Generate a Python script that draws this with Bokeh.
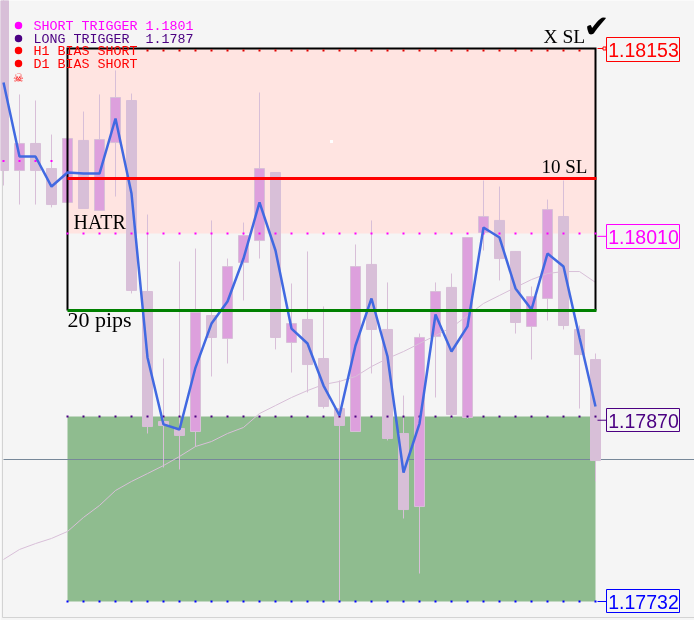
from bokeh.plotting import figure
from bokeh.embed import file_html
from bokeh.resources import INLINE
from bokeh.core.properties import value

# ---- candles (prices, one per bar)
opens = [1.181934,1.180601,1.180807,1.180616,1.180358,1.180830,1.180297,1.180814,1.181134,1.179680,
         1.178690,1.178637,1.178614,1.179497,1.179322,1.179901,1.180068,1.180586,1.179292,1.179467,
         1.179170,1.178789,1.178614,1.179886,1.179391,1.178599,1.178043,1.179337,1.179711,1.178721,
         1.180129,1.180221,1.179985,1.179414,1.179627,1.180251,1.179391,1.179162]
closes = [1.180601,1.180807,1.180601,1.180342,1.180845,1.180312,1.180837,1.181157,1.179688,1.178652,
          1.178660,1.178584,1.179520,1.179330,1.179870,1.180106,1.180616,1.179330,1.179436,1.179124,
          1.178805,1.178660,1.179870,1.179391,1.178561,1.178020,1.179330,1.179680,1.178744,1.180091,
          1.180251,1.179931,1.179444,1.179642,1.180304,1.179421,1.179200,1.178393]
highs = [1.181934,1.181180,1.181134,1.180875,1.180845,1.181050,1.181180,1.181363,1.181187,1.180266,
         1.179170,1.179908,1.180007,1.180221,1.179931,1.180205,1.181195,1.180586,1.179741,1.179985,
         1.179566,1.179003,1.180038,1.180221,1.179749,1.178888,1.179360,1.179749,1.179817,1.180091,
         1.180525,1.180479,1.179985,1.179718,1.180380,1.180525,1.179421,1.179208]
lows = [1.180487,1.180342,1.180342,1.180320,1.180358,1.180312,1.180297,1.180403,1.179665,1.178599,
        1.178340,1.178325,1.178500,1.179033,1.179132,1.179612,1.179931,1.179239,1.179063,1.178911,
        1.178789,1.177320,1.178614,1.179056,1.178546,1.177952,1.177533,1.178873,1.178713,1.178713,
        1.179992,1.179764,1.179360,1.179162,1.179459,1.179391,1.178789,1.178234]
# ---- blue fast average and thin slow average
fast_ma = [1.181271,1.180708,1.180708,1.180479,1.180586,1.180578,1.180578,1.180997,1.180426,1.179178,
           1.178668,1.178629,1.179101,1.179436,1.179604,1.179931,1.180358,1.179992,1.179398,1.179284,
           1.178964,1.178736,1.179269,1.179627,1.179185,1.178302,1.178675,1.179505,1.179223,1.179414,
           1.180167,1.180091,1.179703,1.179543,1.179969,1.179870,1.179330,1.178805]
slow_ma = [1.177640,1.177716,1.177761,1.177800,1.177853,1.177960,1.178051,1.178165,1.178234,1.178294,
           1.178355,1.178424,1.178500,1.178538,1.178599,1.178645,1.178751,1.178812,1.178873,1.178926,
           1.178972,1.178995,1.179033,1.179109,1.179170,1.179223,1.179284,1.179345,1.179406,1.179497,
           1.179589,1.179650,1.179711,1.179771,1.179817,1.179832,1.179832,1.179749]
# ---- price levels
level_top = 1.18153
level_short = 1.18010
level_long = 1.17870
level_bottom = 1.17732
pink_floor = 1.180122
green_ceiling = 1.178728
sl_10 = 1.180540
pips_20 = 1.179535
current_price = 1.178401
early_trigger = 1.180674
top_ticks = 1.181515
level_labels = ["1.18153", "1.18010", "1.17870", "1.17732"]
legend_lines = ["SHORT TRIGGER 1.1801", "LONG TRIGGER\u00a0\u00a01.1787", "H1 BIAS SHORT", "D1 BIAS SHORT"]

W, H = 694, 620
BAR_PX = 16.0
PRICE_PX = 7.613e-6
Y_AT_0 = 1.1818954


def bx(px):
    return (px - 3) / BAR_PX


def py(y):
    return Y_AT_0 - y * PRICE_PX


BG = "#f5f5f5"
THISTLE = "#d8bfd8"
PLUM = "#dda0dd"
FONT_SERIF = value("Liberation Serif")
FONT_MONO = value("Liberation Mono")
FONT_SANS = value("Liberation Sans")

p = figure(width=W, height=H, x_range=(bx(0), bx(W)), y_range=(py(H), py(0)),
           x_axis_location=None, y_axis_location=None, toolbar_location=None,
           output_backend="svg", min_border=0,
           background_fill_color=BG, border_fill_color=BG,
           styles={"position": "fixed", "left": "0px", "top": "0px"})
p.grid.visible = False
p.outline_line_color = None

first, last = 4, 37
# zones
p.quad(left=[first], right=[last], top=[level_top], bottom=[pink_floor], fill_color="#ffe4e1", line_color=None)
p.quad(left=[first], right=[last], top=[green_ceiling], bottom=[level_bottom], fill_color="#8fbc8f", line_color=None)
# window frame lines
p.segment(x0=[bx(2)], x1=[bx(2)], y0=[py(170)], y1=[py(617)], line_color="#d3d3d3", line_width=1)
p.segment(x0=[bx(2)], x1=[bx(W)], y0=[py(617)], y1=[py(617)], line_color="#d3d3d3", line_width=1)
# current price
p.segment(x0=[bx(3)], x1=[bx(W)], y0=[current_price], y1=[current_price], line_color="#778899", line_width=1)

xs = list(range(len(opens)))
tops = [max(a, b) for a, b in zip(opens, closes)]
bots = [min(a, b) for a, b in zip(opens, closes)]
fills = [PLUM if c > o else THISTLE for o, c in zip(opens, closes)]
p.segment(x0=xs, x1=xs, y0=lows, y1=highs, line_color=THISTLE, line_width=1)
p.vbar(x=xs, width=0.625, top=tops, bottom=bots, fill_color=fills, line_color=THISTLE, line_width=1)
p.line(xs, slow_ma, line_color=THISTLE, line_width=1)


def ticks(xvals, level, color):
    p.scatter(xvals, [level] * len(xvals), marker="square", size=2, line_color=None, fill_color=color)


# box
p.line([first, first, last, last], [pips_20, level_top, level_top, pips_20], line_color="black", line_width=2,
       line_join="miter")

# level dots
dots = list(range(first, last + 1))
ticks(list(range(9, last)), top_ticks, "#e00000")
ticks(dots, pink_floor, "#ff00ff")
ticks(dots, green_ceiling, "#4b0082")
ticks(dots, level_bottom, "#0000ff")
ticks([0, 1, 2, 3], early_trigger, "#ff00ff")
p.scatter([bx(331)], [py(141)], marker="square", size=3, line_color=None, fill_color="#ffffff")

p.line(xs, fast_ma, line_color="#4169e1", line_width=2.5)
p.segment(x0=[first], x1=[last + 0.06], y0=[sl_10], y1=[sl_10], line_color="#ff0000", line_width=3)
p.segment(x0=[first], x1=[last + 0.06], y0=[pips_20], y1=[pips_20], line_color="#008000", line_width=3)

# texts on the box
p.text(x=[bx(543)], y=[py(46)], text=["X SL"], text_font=FONT_SERIF, text_font_size=value("19.5px"), text_color="black")
p.text(x=[bx(541)], y=[py(176)], text=["10 SL"], text_font=FONT_SERIF, text_font_size=value("19px"), text_color="black")
p.text(x=[bx(73)], y=[py(232)], text=["HATR"], text_font=FONT_SERIF, text_font_size=value("20px"), text_color="black")
p.text(x=[bx(67)], y=[py(331)], text=["20 pips"], text_font=FONT_SERIF, text_font_size=value("22px"), text_color="black")
p.text(x=[bx(596)], y=[py(25)], text=["\u2714"], text_font=value("DejaVu Sans"), text_font_size=value("31px"),
       text_color="black", text_align="center", text_baseline="middle")

# legend
leg_y = [25, 38, 50, 63]
leg_c = ["#ff00ff", "#4b0082", "#ff0000", "#ff0000"]
p.scatter([bx(18)] * 4, [py(v) for v in leg_y], marker="circle", size=7.5, line_color=None, fill_color=leg_c)
p.text(x=[bx(33)] * 4, y=[py(v + 0.5) for v in leg_y], text=legend_lines, text_font=FONT_MONO,
       text_font_size=value("13.33px"), text_color=leg_c, text_baseline="middle")
p.text(x=[bx(18)], y=[py(77)], text=["\u2620"], text_font=value("DejaVu Sans"), text_font_size=value("12px"),
       text_color="#ff0000", text_align="center", text_baseline="middle")

# price labels
lv = [level_top, level_short, level_long, level_bottom]
cols = ["#ff0000", "#ff00ff", "#4b0082", "#0000ff"]
box_tops = [37, 224, 408, 589]
box_bots = [61, 248, 431, 612]
p.segment(x0=[bx(597)] * 4, x1=[bx(606)] * 4, y0=lv, y1=lv, line_color=cols, line_width=1)
p.scatter([bx(604)], [level_top], marker="square", size=3, line_color="#ff0000", fill_color=BG)
p.quad(left=[bx(606)] * 4, right=[bx(679)] * 4, top=[py(v) for v in box_tops],
       bottom=[py(v) for v in box_bots], fill_color=BG, line_color=cols, line_width=1)
p.text(x=[bx(643)] * 4, y=[py((a + b) / 2 + 0.5) for a, b in zip(box_tops, box_bots)], text=level_labels,
       text_font=FONT_SANS, text_font_size=value("19.5px"), text_color=cols, text_align="center",
       text_baseline="middle")

open("out.html", "w").write(file_html(p, INLINE))
